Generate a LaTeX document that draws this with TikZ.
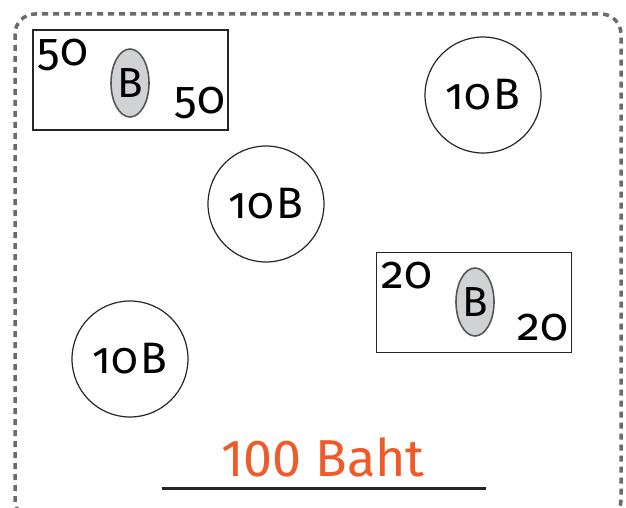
\documentclass[tikz,border=0pt]{standalone}
\usepackage{fontspec}
\setmainfont{Fira Sans}[Numbers=OldStyle]
\newfontfamily\liningfont{Fira Sans}[Numbers=Lining]
\usetikzlibrary{shapes.geometric}
\definecolor{dashgray}{HTML}{6A6A6A}
\definecolor{ovalfill}{HTML}{D1D2D4}
\definecolor{ovaledge}{HTML}{555555}
\definecolor{bahtorange}{HTML}{F05A28}
\tikzset{
  frame/.style={draw=dashgray, line width=3.5pt, dash pattern=on 6pt off 5pt, rounded corners=20pt},
  bill/.style={draw=black!85, line width=1.2pt, minimum width=195pt, minimum height=100pt, inner sep=0pt},
  coin/.style={circle, draw=black!85, line width=1.2pt, minimum size=116pt, inner sep=0pt, font=\fontsize{44}{44}\selectfont},
  oval/.style={ellipse, draw=ovaledge, fill=ovalfill, line width=1.6pt, minimum width=38pt, minimum height=68pt, inner sep=0pt, font=\fontsize{42}{42}\selectfont},
  billnum/.style={inner sep=0pt, font=\fontsize{46}{46}\selectfont},
}
\begin{document}
\begin{tikzpicture}[x=1pt,y=-1pt]
\useasboundingbox (0,0) rectangle (626,508);
\draw[frame] (15,14) rectangle (621,520);
% 50 bill
\node[bill] (b50) at (130.5,80) {};
\node[oval] (o50) at (130,83) {B};
\node[billnum] (n50a) at (63,55) {50};
\node[billnum] (n50b) at (200,103) {50};
% 20 bill
\node[bill] (b20) at (474,302.5) {};
\node[oval] (o20) at (475,302) {B};
\node[billnum] (n20a) at (407,276) {20};
\node[billnum] (n20b) at (543,328) {20};
% coins
\node[coin] (c1) at (483,95) {10\kern2pt B};
\node[coin] (c2) at (266,204) {10\kern2pt B};
\node[coin] (c3) at (130,359) {10\kern2pt B};
% label
\node[text=bahtorange, font=\liningfont\fontsize{52}{52}\selectfont, inner sep=0pt] (lbl) at (323,457) {100 Baht};
\coordinate (ul) at (162,488);
\coordinate (ur) at (486,488);
\draw[line width=3pt, black!85] (ul) -- (ur);
\end{tikzpicture}
\end{document}
